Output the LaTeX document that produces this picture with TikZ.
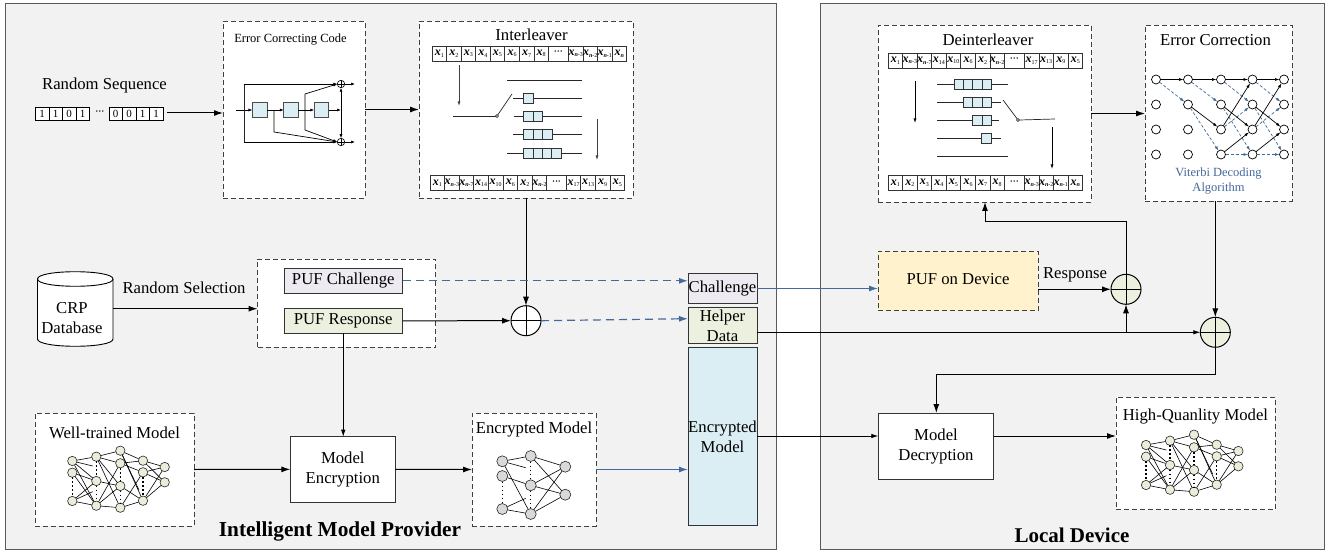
\documentclass[tikz,border=0pt]{standalone}
\usepackage{fontspec}
\setmainfont{Liberation Serif}
\usetikzlibrary{arrows.meta,shapes.geometric,calc}
\definecolor{panelfill}{HTML}{F2F2F2}
\definecolor{panelline}{HTML}{595959}
\definecolor{bluel}{HTML}{44699B}
\definecolor{cellblue}{HTML}{DAEEF3}
\definecolor{lilac}{HTML}{EEEAF2}
\definecolor{lgreen}{HTML}{EBF1DE}
\definecolor{lyellow}{HTML}{FFF2CC}
\definecolor{ngray}{HTML}{D9D9D9}
\definecolor{ngreen}{HTML}{E9EEDB}
\newcommand\fs[1]{\fontsize{#1}{#1}\selectfont}
\newcommand\xs[1]{{\fs{12}\bfseries\itshape x}\raisebox{-1.5pt}{\fs{6}#1}}
\newcommand\xn[1]{{\fs{12}\bfseries\itshape x}\raisebox{-1.5pt}{\fs{6}\textbf{\textit{n}}#1}}
\newcommand\cdts{\raisebox{1.5pt}{\fs{9}\bfseries ···}}
% style, name, x1, y1, x2, y2, text
\newcommand\bx[7]{%
  \pgfmathsetmacro\bw{#5-#3}\pgfmathsetmacro\bh{#6-#4}%
  \node[#1,anchor=north west,minimum width=\bw pt,minimum height=\bh pt] (#2) at (#3,#4) {#7};}
% name, x0, y, w, wdots, first list, last list
\newcommand\xrow[7]{%
  \foreach \l [count=\i] in {#6} {\pgfmathsetmacro\xx{#2+(\i-1)*#4}
    \node[xcell,minimum width=#4pt,anchor=north west] (#1a\i) at (\xx,#3) {\l};}
  \pgfmathsetmacro\xx{#2+8*#4}
  \node[xcell,minimum width=#5pt,anchor=north west] (#1d) at (\xx,#3) {\cdts};
  \foreach \l [count=\i] in {#7} {\pgfmathsetmacro\xx{#2+8*#4+#5+(\i-1)*#4}
    \node[xcell,minimum width=#4pt,anchor=north west] (#1b\i) at (\xx,#3) {\l};}}
% delay line: name, y, x1, x2, first cell x, n cells, cell width
\newcommand\dline[7]{%
  \coordinate (#1l) at (#3,#2); \coordinate (#1r) at (#4,#2);
  \draw[thinl] (#1l) -- (#1r);
  \foreach \k in {1,...,#6} {\pgfmathsetmacro\xx{#5+(\k-1)*#7}
    \node[delay,minimum width=#7pt,anchor=west] (#1c\k) at (\xx,#2) {};}}
% name, dx, dy
\newcommand\bignet[3]{%
  \begin{scope}[shift={(#2,#3)}]
  \foreach \n/\x/\y in {a1/72.3/461,a2/72.3/472.7,a3/72.3/501,b1/96.3/456.7,b2/96.3/481,b3/96.3/505.7,
    c1/120.3/450.7,c2/120.3/463.3,c3/120.3/486,c4/120.3/507.7,d1/143/460.7,d2/143/472.3,d3/143/500.7,
    e1/164.7/467,e2/164.7/482.3}
    \node[nnode,fill=ngreen] (#1\n) at (\x,\y) {};
  \coordinate (#1p1) at (92.7,466); \coordinate (#1p2) at (92.7,491.7); \coordinate (#1p3) at (139,490);
  \foreach \u/\v in {a1/b1,a1/b2,a1/b3,a1/p1,a2/b2,a2/b3,a3/b2,a3/b3,a3/p2,b1/c1,b1/c2,b1/c3,b1/c4,b2/c3,
    b3/c4,b3/c3,b3/c2,c1/d1,c1/d3,c1/p3,c2/d1,c2/d2,c3/d3,c4/d3,c4/d2,d1/e1,d1/e2,d2/e1,d2/e2,d3/e1,d3/e2}
    \draw[nedge] (#1\u) -- (#1\v);
  \foreach \u/\v in {a2/a3,b1/b2,b2/b3,c2/c3,c3/c4,d2/d3}
    \draw[ndots] (#1\u) -- (#1\v);
  \end{scope}}
\tikzset{
  panel/.style={draw=panelline,fill=panelfill,line width=0.9pt,inner sep=0,outer sep=0},
  dbox/.style={draw=black!75,fill=white,line width=0.8pt,dash pattern=on 5pt off 3pt,inner sep=0,outer sep=0},
  sbox/.style={draw=black!80,line width=0.8pt,inner sep=0,outer sep=0,align=center,font=\fs{16.7}},
  lab/.style={inner sep=0,outer sep=0,align=center,font=\fs{16.7}},
  xcell/.style={draw=black!80,line width=0.7pt,fill=white,inner sep=0,outer sep=0,minimum height=15pt},
  bitc/.style={draw=black,line width=0.6pt,fill=white,inner sep=0,outer sep=0,minimum width=13.45pt,minimum height=13pt,font=\fs{11}},
  reg/.style={draw=black!70,line width=0.7pt,fill=cellblue,inner sep=0,outer sep=0,minimum width=14.5pt,minimum height=14.5pt},
  delay/.style={draw=black!80,line width=0.7pt,fill=cellblue,inner sep=0,outer sep=0,minimum height=9.8pt},
  xorc/.style={circle,draw=black,line width=1pt,inner sep=0,outer sep=0,minimum size=30pt,
    path picture={\draw[line width=.9pt] (path picture bounding box.north) -- (path picture bounding box.south)
      (path picture bounding box.west) -- (path picture bounding box.east);}},
  minixor/.style={circle,draw=black,line width=.6pt,fill=none,inner sep=0,outer sep=0,minimum size=7.5pt,
    path picture={\draw[line width=.5pt] (path picture bounding box.north) -- (path picture bounding box.south)
      (path picture bounding box.west) -- (path picture bounding box.east);}},
  main/.style={draw=black,line width=1pt,-{Latex[length=9pt,width=6pt]}},
  mainthin/.style={draw=black,line width=.8pt,-{Latex[length=7pt,width=4.5pt]}},
  bluea/.style={draw=bluel,line width=1.2pt,-{Latex[length=9pt,width=6pt]}},
  bluedash/.style={bluea,dash pattern=on 8pt off 5pt},
  small/.style={draw=black,line width=.7pt,-{Latex[length=4pt,width=3pt]}},
  thinl/.style={draw=black!85,line width=.7pt},
  grayar/.style={draw=black!75,line width=.7pt,-{Latex[length=4.5pt,width=3pt]}},
  tnode/.style={circle,draw=black,line width=.7pt,fill=white,inner sep=0,outer sep=0,minimum size=9pt},
  tsolid/.style={draw=black,line width=.7pt,-{Latex[length=4.5pt,width=3pt]}},
  tdash/.style={draw=bluel,line width=.7pt,dash pattern=on 3pt off 2pt,-{Latex[length=4.5pt,width=3pt]}},
  nnode/.style={circle,draw=black!85,line width=.6pt,inner sep=0,outer sep=0,minimum size=9.4pt},
  nedge/.style={draw=black,line width=.6pt},
  ndots/.style={draw=black,line width=1.5pt,dash pattern=on 1.5pt off 2.5pt},
  swdot/.style={circle,draw=black,line width=.6pt,fill=white,inner sep=0,outer sep=0,minimum size=3pt},
}
\begin{document}
\begin{tikzpicture}[x=1pt,y=-1pt]
\useasboundingbox (0,0) rectangle (1338,553);
\bx{panel}{leftp}{5.5}{3}{776}{549.5}{}
\bx{panel}{rightp}{820}{3}{1324}{549.5}{}
% dashed containers
\bx{dbox}{ecc}{223}{21}{365}{198}{}
\bx{dbox}{ilv}{419}{21}{633}{198}{}
\bx{dbox}{deint}{878}{25}{1091}{202}{}
\bx{dbox}{ec}{1145}{25}{1292}{201}{}
\bx{dbox}{pufbox}{257.5}{259}{435.7}{347.3}{}
\bx{dbox}{wt}{35}{413}{194}{526}{}
\bx{dbox}{em}{472}{413}{596}{526}{}
\bx{dbox}{hq}{1116}{397}{1275}{509.6}{}
\bx{dbox,fill=lyellow}{puf}{878}{251}{1038}{310.7}{\raisebox{3pt}{\fs{16.7}PUF on Device}}
% labels
\node[lab] (lrs) at (104.5,85) {Random Sequence};
\node[lab,font=\fs{12.5}] (lecc) at (290.5,40) {Error Correcting Code};
\node[lab] (lilv) at (531.5,35) {Interleaver};
\node[lab] (ldei) at (988,40) {Deinterleaver};
\node[lab] (lec) at (1215.5,40) {Error Correction};
\node[lab,font=\fs{12.5},text=bluel] (lvit) at (1218.5,181) {Viterbi Decoding\\[3pt]Algorithm};
\node[lab] (lwt) at (114.5,433) {Well-trained Model};
\node[lab] (lem) at (534,430) {Encrypted Model};
\node[lab] (lhq) at (1195.5,417) {High-Quanlity Model};
\node[lab] (lsel) at (184,287.7) {Random Selection};
\node[lab] (lresp) at (1075,275) {Response};
\node[lab,font=\fs{21.3}\bfseries] (lprov) at (340,531) {Intelligent Model Provider};
\node[lab,font=\fs{21}\bfseries] (lloc) at (1072,535) {Local Device};
% random sequence
\foreach \b [count=\i] in {1,1,0,1} {\pgfmathsetmacro\xx{35.5+(\i-1)*13.45}
  \node[bitc,anchor=north west] (sa\i) at (\xx,107) {\b};}
\node[lab] (sd) at (100,113) {\cdts};
\foreach \b [count=\i] in {0,0,1,1} {\pgfmathsetmacro\xx{109+(\i-1)*13.45}
  \node[bitc,anchor=north west] (sb\i) at (\xx,107) {\b};}
\coordinate (seqout) at (167,113);
\draw[main] (seqout) -- (seqout -| ecc.west);
% ECC internals
\node[reg] (r1) at (259.7,110) {};
\node[reg] (r2) at (291,110) {};
\node[reg] (r3) at (321.5,110) {};
\node[minixor] (xa) at (341,84) {};
\node[minixor] (xb) at (341,142) {};
\coordinate (cin) at (236,110); \coordinate (ctap) at (244,110);
\coordinate (ct1) at (244,84); \coordinate (ct2) at (244,142);
\coordinate (cj) at (341,110);
\coordinate (oa) at (355,84); \coordinate (ob) at (355,142);
\coordinate (b1) at (274,110); \coordinate (b1d) at (274,132);
\coordinate (b2) at (305,110); \coordinate (b2u) at (305,94); \coordinate (b2d) at (305,130);
\draw[small] (cin) -- (r1.west);
\draw[thinl] (ctap) -- (ct1); \draw[thinl] (ctap) -- (ct2);
\draw[small] (ct1) -- (xa.west); \draw[small] (ct2) -- (xb.west);
\draw[small] (r1.east) -- (r2.west);
\draw[small] (r2.east) -- (r3.west);
\draw[small] (r3.east) -- (cj);
\draw[small] (xa.east) -- (oa); \draw[small] (xb.east) -- (ob);
\draw[draw=black,line width=.7pt,{Latex[length=4pt,width=3pt]}-{Latex[length=4pt,width=3pt]}] (xa.south) -- (xb.north);
\draw[small] (b1) -- (b1d) -- (xb.west);
\draw[small] (b2) -- (b2u) -- (xa.west);
\draw[small] (b2) -- (b2d) -- (xb.west);
\draw[main] (ecc.east) -- (ilv.west);
% interleaver
\xrow{it}{432}{46}{14.55}{20}
 {\xs{1},\xs{2},\xs{3},\xs{4},\xs{5},\xs{6},\xs{7},\xs{8}}
 {\xn{-3},\xn{-2},\xn{-1},\xn{}}
\xrow{ib}{430}{175.5}{14.6}{19.4}
 {\xs{1},\xn{-3},\xn{-7},\xs{14},\xs{10},\xs{6},\xs{2},\xn{-2}}
 {\xs{17},\xs{13},\xs{9},\xs{5}}
\coordinate (ia1) at (459,65); \coordinate (ia2) at (459,106);
\draw[grayar] (ia1) -- (ia2);
\coordinate (ia3) at (597,119); \coordinate (ia4) at (597,160);
\draw[grayar] (ia3) -- (ia4);
\coordinate (iin) at (453,116);
\node[swdot] (isw) at (497,116) {};
\coordinate (iswe) at (512,94);
\draw[thinl] (iin) -- (isw.west);
\draw[thinl] (isw) -- (iswe);
\draw[thinl] (507,80) coordinate (il0) -- (582,80) coordinate (il0r);
\dline{ia}{98}{513}{582}{523.5}{1}{9.7}
\dline{ib}{116}{514}{582}{523.5}{2}{9.6}
\dline{ic}{134}{513}{582}{523.5}{3}{9.5}
\dline{id}{153}{507}{582}{523.5}{4}{9.4}
% deinterleaver
\xrow{dt}{888}{53}{14.55}{20}
 {\xs{1},\xn{-3},\xn{-7},\xs{14},\xs{10},\xs{6},\xs{2},\xn{-2}}
 {\xs{17},\xs{13},\xs{9},\xs{5}}
\xrow{db}{888}{175.5}{14.55}{20}
 {\xs{1},\xs{2},\xs{3},\xs{4},\xs{5},\xs{6},\xs{7},\xs{8}}
 {\xn{-3},\xn{-2},\xn{-1},\xn{}}
\draw[grayar,draw=black] (915,81) coordinate (da1) -- (915,123) coordinate (da2);
\draw[grayar,draw=black] (1052,127) coordinate (da3) -- (1052,169) coordinate (da4);
\dline{da}{84}{937}{1008}{954}{4}{9.4}
\dline{db}{102}{937}{1001}{963}{3}{9.5}
\dline{dc}{120}{937}{999}{972.5}{2}{9.5}
\dline{dd}{138}{937}{1001}{981.5}{1}{10}
\draw[thinl] (937,156) coordinate (dl0) -- (1008,156) coordinate (dl0r);
\node[swdot] (dsw) at (1018,120) {};
\coordinate (dswn) at (1003,100);
\draw[thinl] (dswn) -- (dsw);
\coordinate (dout) at (1055,119);
\draw[thinl] (dsw.east) -- (dout);
\draw[main] (deint.east) -- (deint.east -| ec.west);
% trellis
\foreach \c/\x in {1/1156,2/1188,3/1221,4/1252.5,5/1284}
  \foreach \r/\y in {1/79.5,2/104.5,3/129.5,4/154.5}
    \node[tnode] (t\c\r) at (\x,\y) {};
\foreach \a/\b in {11/22,21/32,31/42,41/52,22/34,32/44,42/54,34/44,44/54,33/42,43/52}
  \draw[tdash] (t\a) -- (t\b);
\foreach \a/\b in {11/21,21/31,31/41,41/51,22/33,33/41,32/43,42/53,43/51,34/43,44/53}
  \draw[tsolid] (t\a) -- (t\b);
% CRP
\draw[draw=black,line width=.9pt,fill=white] (37.5,279) -- (37.5,339)
  .. controls (37.5,348.7) and (113,348.7) .. (113,339) -- (113,279)
  .. controls (113,269.3) and (37.5,269.3) .. (37.5,279) -- cycle;
\draw[draw=black,line width=.9pt] (37.5,279) .. controls (37.5,288.7) and (113,288.7) .. (113,279);
\node[inner sep=0,outer sep=0,minimum width=75.5pt,minimum height=74.3pt] (crp) at (75.25,308.85) {};
\node[lab] (lcrp) at (72,318) {CRP\\[3.3pt]Database};
\draw[main] (crp.east |- 0,308.7) -- (pufbox.west |- 0,308.7);
% PUF pair
\bx{sbox,fill=lilac}{pch}{284}{268.3}{402.5}{293.3}{PUF Challenge}
\bx{sbox,fill=lgreen}{prs}{284}{308.3}{402.5}{333.3}{PUF Response}
\node[xorc,fill=white] (xor3) at (526,320.7) {};
\draw[main] (ilv.south) -- (xor3.north);
\draw[main] (prs.east) -- (xor3.west);
% transmitted boxes
\bx{sbox,fill=lilac}{chal}{688}{273.7}{757}{303.3}{Challenge}
\bx{sbox,fill=lgreen}{help}{688}{307.3}{757}{343.3}{Helper\\[3.3pt]Data}
\bx{sbox,fill=cellblue}{benc}{688}{347.3}{757}{525.7}{}
\node[lab] (lbenc) at (722.5,436.5) {Encrypted\\[3.3pt]Model};
\coordinate (hin) at (688,318.7);
\draw[bluedash] (pch.east) -- (pch.east -| chal.west);
\draw[bluedash] (xor3.east) -- (hin);
\draw[bluea] (chal.east) -- (chal.east -| puf.west);
% XORs on device
\node[xorc,fill=lgreen] (xor1) at (1126,289.3) {};
\node[xorc,fill=lgreen] (xor2) at (1215.3,332.3) {};
\draw[main] (xor1.west -| puf.east) -- (xor1.west);
\coordinate (hout) at (help.east |- xor2.west);
\coordinate (hj) at (hout -| xor1.south);
\draw[draw=black,line width=1pt] (hout) -- (hj);
\draw[main] (hj) -- (xor1.south);
\draw[mainthin] (hj) -- (xor2.west);
\coordinate (dj) at (985,222);
\draw[main] (xor1.north) |- (dj) -- (dj |- deint.south);
\draw[main] (ec.south -| xor2.north) -- (xor2.north);
% models
\bignet{wn}{0}{0}
\bignet{hn}{1073.7}{-16}
\foreach \n/\x/\y in {a1/502.3/461.3,a2/502.3/476,a3/502.3/509,b1/530.7/456,b2/530.7/485.3,b3/530.7/514,c1/565.3/466.7,c2/565.3/494.7}
  \node[nnode,fill=ngray,minimum size=11pt] (en\n) at (\x,\y) {};
\coordinate (enp1) at (525.7,467.7); \coordinate (enp2) at (525.7,498.3);
\foreach \u/\v in {a1/b1,a1/b3,a1/p1,a2/b2,a3/b3,a3/p2,b1/c1,b1/c2,b2/c1,b2/c2,b3/c1,b3/c2}
  \draw[nedge] (en\u) -- (en\v);
\foreach \u/\v in {a2/a3,b1/b2,b2/b3}
  \draw[ndots] (en\u) -- (en\v);
\bx{sbox,fill=white}{me}{290.3}{436.7}{395.3}{502}{Model\\[3.3pt]Encryption}
\bx{sbox,fill=white}{md}{878.3}{413}{993.7}{479.3}{Model\\[3.3pt]Decryption}
\draw[mainthin] (prs.south) -- (prs.south |- me.north);
\draw[main] (wt.east) -- (me.west);
\draw[main] (me.east) -- (em.west);
\draw[bluea] (em.east) -- (em.east -| benc.west);
\coordinate (mdin) at (878.3,436);
\draw[mainthin] (benc.east |- mdin) -- (mdin);
\draw[main] (mdin -| md.east) -- (mdin -| hq.west);
\coordinate (k) at (936.3,374);
\draw[main] (xor2.south) |- (k) -- (k |- md.north);
\end{tikzpicture}
\end{document}
